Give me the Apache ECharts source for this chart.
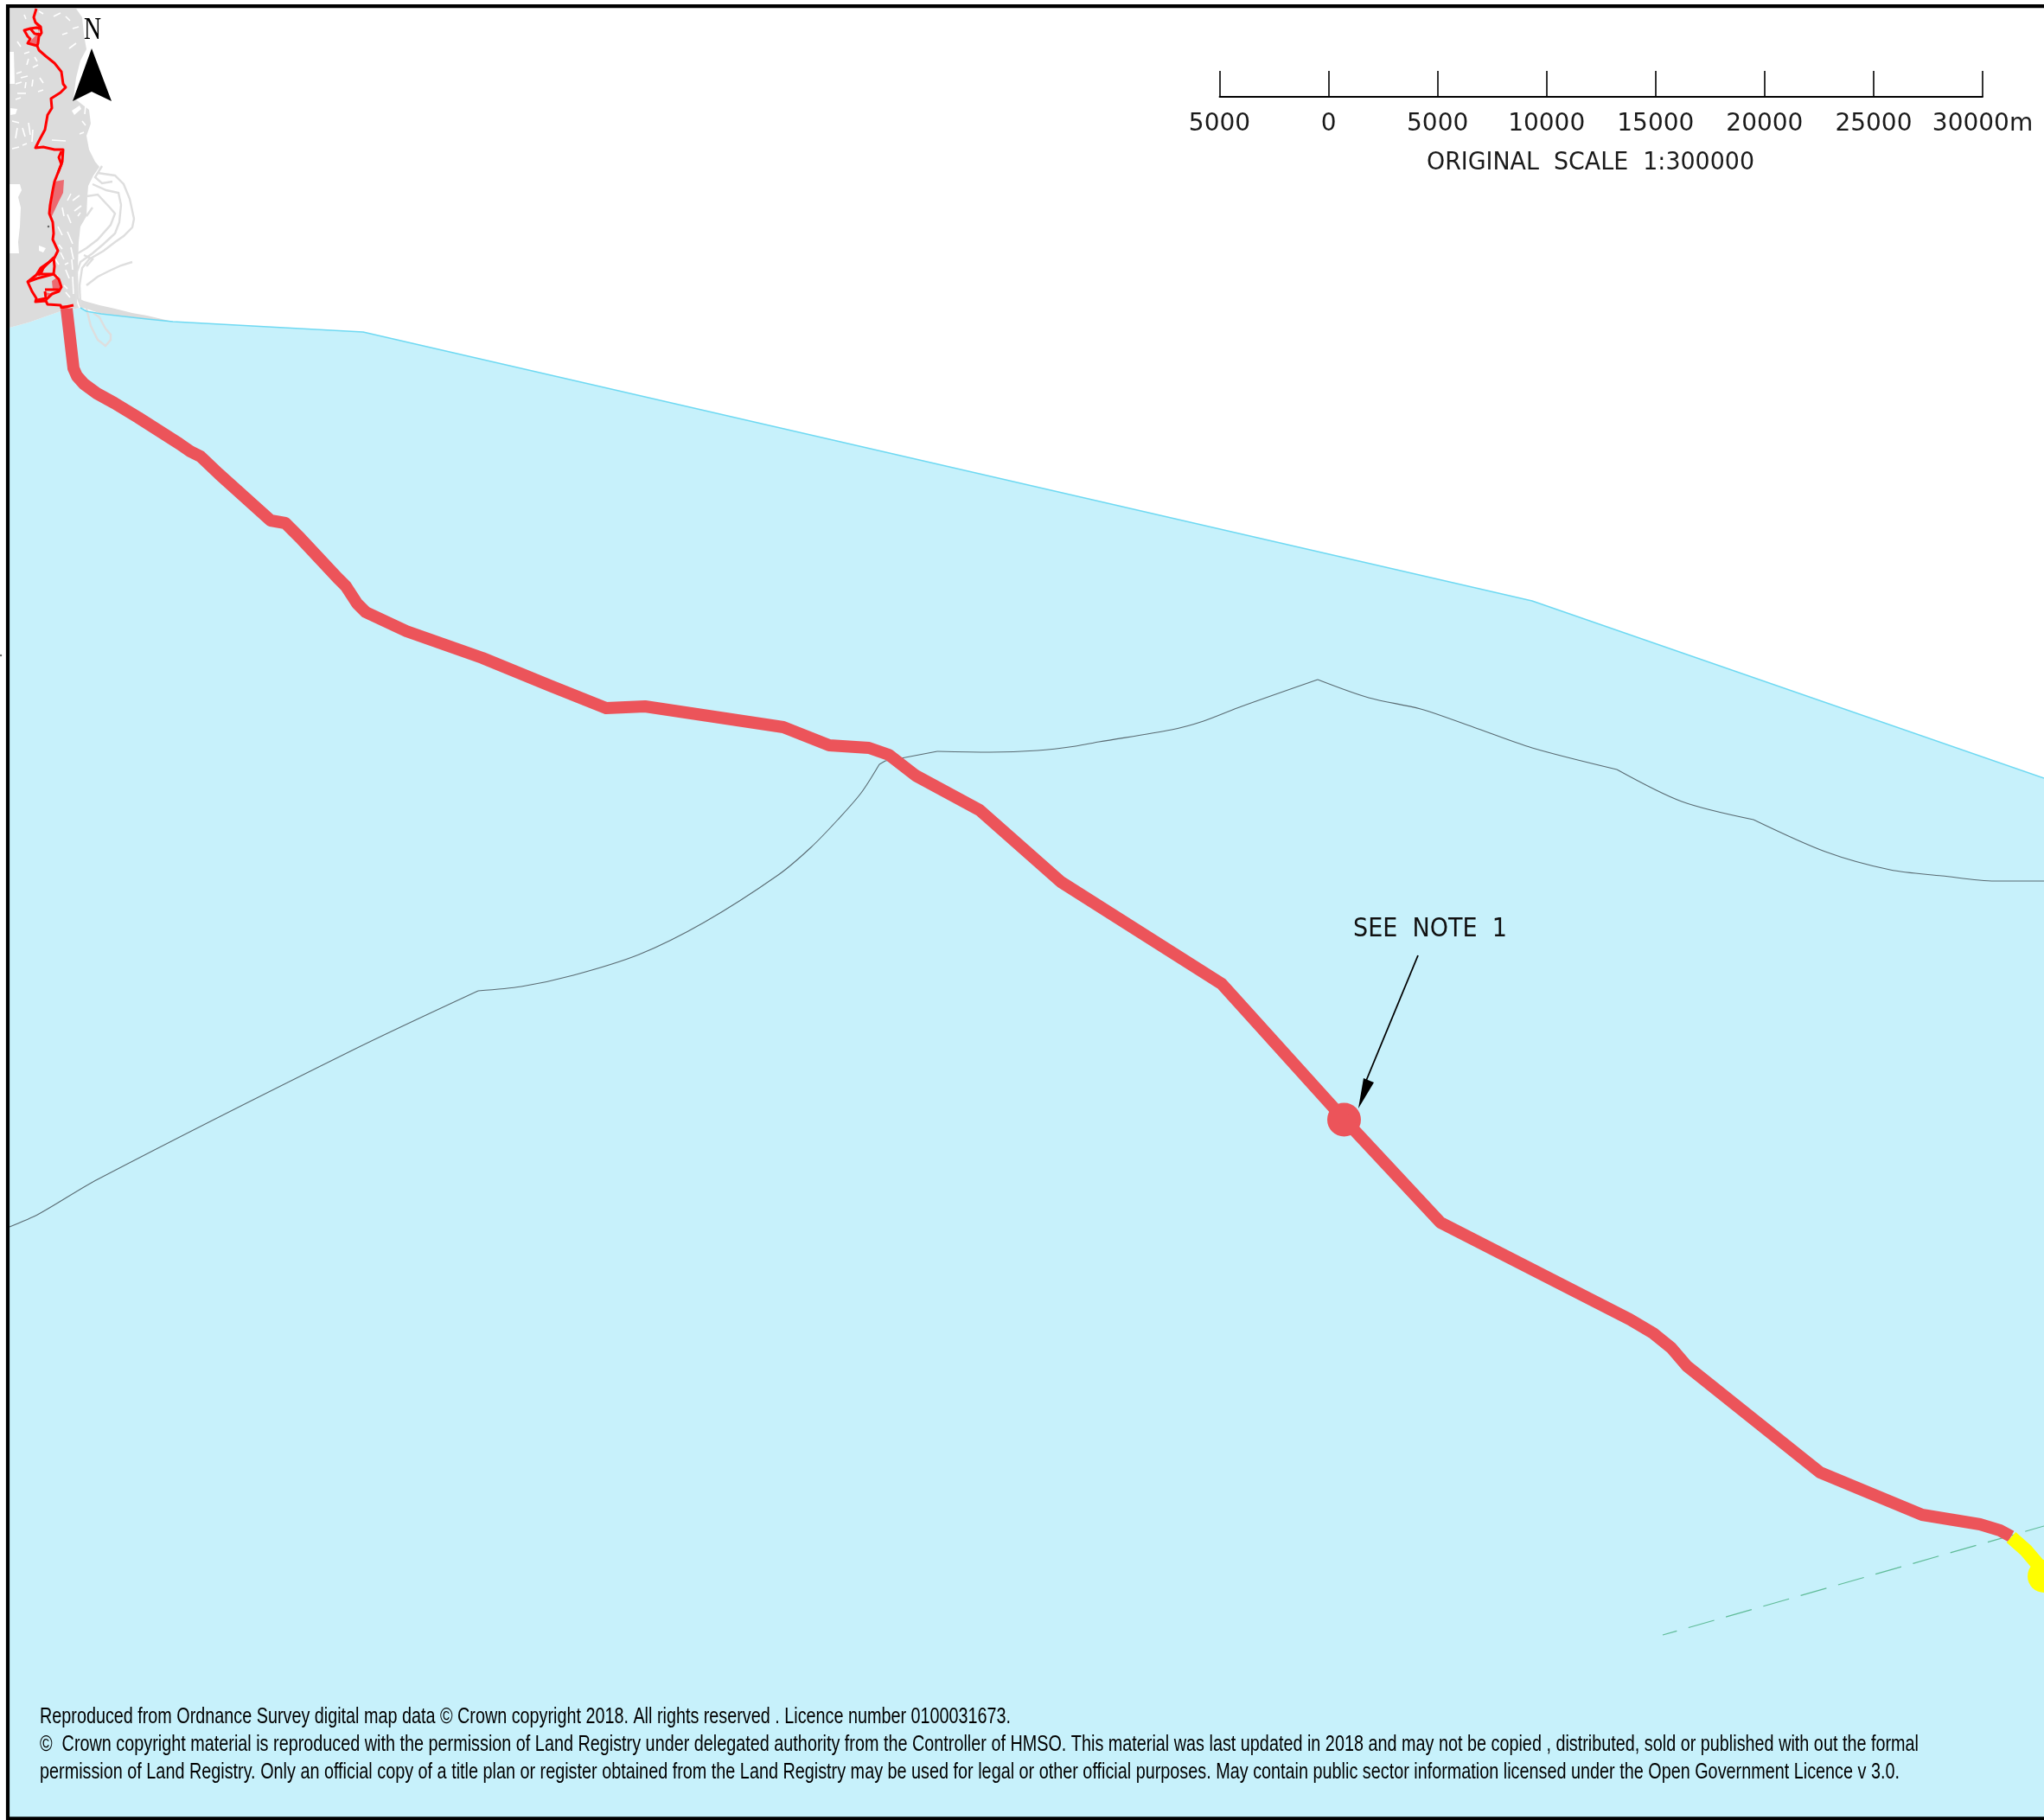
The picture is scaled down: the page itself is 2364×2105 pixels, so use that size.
<!DOCTYPE html>
<html><head><meta charset="utf-8">
<style>html,body{margin:0;padding:0;background:#fff}#c{width:2364px;height:2105px}</style>
<script src="https://cdn.jsdelivr.net/npm/echarts@6/dist/echarts.min.js"></script>
</head><body><div id="c"></div>
<script>
// ---- map data, in drawing units ----
const seaArea = [[11,379],[33,373],[50,367],[70,360],[93,356],[100,360],[117,363],[170,369],[200,372],[420,384],[1772,695],[2364,900],[2364,2103],[11,2103]];
const seaBoundary = [[93,356],[100,360],[117,363],[170,369],[200,372],[420,384],[1772,695],[2364,900]];
const landAreas = [
 [[11,10],[88,10],[95,20],[97,40],[100,57],[93,70],[88,90],[85,113],[103,127],[105,143],[100,157],[103,173],[110,187],[115,193],[108,203],[102,215],[101,228],[100,250],[93,262],[91,280],[90,310],[91,345],[97,348],[115,353],[133,357],[153,362],[170,365],[200,372],[170,369],[117,363],[100,357],[93,356],[70,360],[50,367],[33,373],[11,379]]
];
const landGaps = [
 [[11,213],[23,213],[25,220],[21,228],[24,240],[23,262],[21,280],[22,293],[11,293]],
 [[11,60],[16,60],[17,97],[11,97]],
 [[12,125],[20,126],[18,132],[12,133]],
 [[45,284],[53,287],[50,292],[45,290]],
 [[83,128],[92,122],[94,126],[86,133]]
];
const landFlecks = [
 [[28,17],[30,22]],[[45,13],[50,16]],[[62,19],[70,15]],[[76,19],[81,24]],[[84,33],[91,31]],[[72,40],[78,38]],
 [[20,48],[24,54]],[[28,62],[34,60]],[[33,68],[31,75]],[[19,85],[25,83]],[[24,90],[32,88]],[[38,78],[44,75]],
 [[40,66],[43,71]],[[18,97],[25,95]],[[30,95],[29,102]],[[38,92],[37,100]],[[20,108],[30,108]],[[18,115],[24,113]],
 [[46,90],[50,96]],[[44,106],[50,104]],[[80,56],[88,50]],[[99,122],[98,132]],[[95,140],[99,145]],[[92,155],[97,153]],
 [[60,162],[76,163]],[[14,140],[22,142]],[[20,148],[18,160]],[[26,148],[29,158]],[[33,142],[35,156]],[[26,168],[31,166]],
 [[14,172],[22,170]],[[38,150],[37,164]],
 [[67,262],[72,272]],[[78,248],[82,258]],[[84,232],[92,226]],[[86,244],[94,238]],[[70,292],[74,300]],[[66,318],[70,330]],
 [[82,286],[85,300]],[[76,312],[80,322]],[[76,338],[81,344]],[[88,345],[92,356]],[[78,268],[84,282]],[[72,240],[74,250]],
 [[83,300],[84,312]],[[84,320],[85,340]],[[74,330],[78,334]],[[90,250],[93,246]],[[68,283],[72,288]],[[78,232],[82,224]],
 [[64,300],[68,306]],[[75,306],[79,304]]
];
const landRoads = [
 [[113,200],[133,203],[143,213],[150,230],[155,253],[153,263],[143,273],[133,280],[120,290],[103,300],[95,310],[92,330],[93,353]],
 [[107,213],[123,220],[137,223],[140,237],[138,257],[133,270],[120,282],[107,293],[93,303],[88,317],[88,353]],
 [[100,227],[113,225],[127,240],[133,247],[128,260],[113,277],[100,287],[90,293]],
 [[153,303],[140,307],[127,313],[113,320],[100,330]],
 [[118,192],[110,205],[118,212],[130,210]],
 [[107,240],[100,250]],
 [[97,295],[107,300],[100,308]],
 [[100,357],[105,377],[113,393],[122,400],[128,393],[128,387],[122,380],[115,367],[108,362]]
];
const depthLineWestA = [[11,1419],[45,1404],[113,1364],[407,1215],[553,1146]];
const depthLineWestB = [[553,1146],[603,1141],[663,1128],[739,1104],[814,1067],[900,1012],[938,980],[969,948],[996,917],[1017,884]];
const depthLineWestC = [[1017,884],[1024,880],[1042,877],[1084,869]];
const depthLineWestD = [[1084,869],[1145,870],[1200,868],[1244,863],[1271,858],[1355,844],[1392,834],[1436,817],[1524,786]];
const depthLineEastA = [[1524,786],[1583,807],[1643,820],[1704,841],[1772,865],[1870,890]];
const depthLineEastB = [[1870,890],[1945,927],[2028,948]];
const depthLineEastC = [[2028,948],[2111,985],[2186,1006],[2246,1013],[2307,1019],[2364,1019]];
const limitLine = [[1923,1891],[2364,1765]];
const cableRoute = [[77,357],[85,426],[89,435],[97,444],[112,455],[132,466],[160,483],[207,513],[220,522],[232,528],[253,548],[313,602],[330,605],[347,622],[390,668],[400,678],[413,698],[423,708],[470,730],[558,761],[636,793],[701,819],[746,817],[906,841],[959,862],[1005,865],[1028,873],[1059,897],[1133,937],[1227,1020],[1413,1138],[1554,1294],[1666,1414],[1885,1526],[1912,1542],[1933,1559],[1951,1580],[2105,1703],[2223,1752],[2290,1763],[2313,1770],[2326,1777]];
const cableEnd = [[2326,1778],[2343,1793],[2360,1813],[2364,1823]];
const noteJoint = [[1554.5,1295]];
const endJoint = [[2364,1823]];
const onshoreRoute = [
 [[42,10],[39,20],[41,26],[47,31],[48,38],[45,42],[44,50],[43,53],[45,58],[53,65],[63,73],[71,83],[73,97],[76,101],[70,107],[59,114],[60,125],[55,133],[52,150],[45,163],[41,171],[50,170],[63,173],[73,173],[72,187],[67,200],[63,210],[61,220],[58,237],[57,247],[61,257],[62,270],[61,277],[67,290],[63,298],[57,303],[47,310],[42,318],[32,326],[37,337],[42,345],[41,349],[53,348],[55,352],[70,353],[71,356],[85,353]],
 [[48,33],[42,32],[35,33],[28,35],[32,42],[35,45],[32,50],[43,53]],
 [[35,33],[40,39],[48,40]],
 [[42,317],[62,317],[68,323],[71,332],[68,337],[60,340],[53,347]],
 [[32,326],[43,322],[62,317]],
 [[52,335],[67,335],[68,338]],
 [[50,310],[62,298],[63,308],[62,317]],
 [[52,337],[53,345],[43,347]],
 [[71,175],[68,182],[71,190],[67,200]],
 [[42,318],[50,310],[48,315],[44,318]]
];
const onshoreAreas = [
 [[63,210],[74,208],[73,223],[68,233],[60,250],[57,247],[58,233],[62,217]],
 [[40,24],[47,32],[44,38],[33,50],[43,53],[45,37]],
 [[60,325],[67,320],[71,330],[67,337],[61,335]],
 [[52,338],[63,340],[57,345]],
 [[42,318],[50,310],[48,315]],
 [[70,353],[85,353],[73,360],[71,356]]
];
const northArrow = [[106,56],[129,117],[106,106],[84,117]];
const noteLeader = [[1640,1105],[1580,1250]];
const noteArrowHead = [[1577,1247],[1589,1252],[1571,1282]];
const specks = [[1,758],[56,262]];
// ---- scale bar ----
const scaleMin = -5000, scaleMax = 30000, scaleStep = 5000;
const scaleTickLabels = ['5000','0','5000','10000','15000','20000','25000','30000m'];
const scaleTitle = 'ORIGINAL\u00a0\u00a0SCALE\u00a0\u00a01:300000';
const noteText = 'SEE\u00a0\u00a0NOTE\u00a0\u00a01';
const northText = 'N';
const footerLines = [
 'Reproduced from Ordnance Survey digital map data © Crown copyright 2018. All rights reserved . Licence number 0100031673.',
 '©  Crown copyright material is reproduced with the permission of Land Registry under delegated authority from the Controller of HMSO. This material was last updated in 2018 and may not be copied , distributed, sold or published with out the formal',
 'permission of Land Registry. Only an official copy of a title plan or register obtained from the Land Registry may be used for legal or other official purposes. May contain public sector information licensed under the Open Government Licence v 3.0.'
];

const mctx = document.createElement('canvas').getContext('2d');
function fitted(text, font, left, centreY, width, fill){
  mctx.font = font;
  const w = mctx.measureText(text).width;
  return {type:'text', x:left, y:centreY, scaleX:width/w, silent:true, z:50,
    style:{text, font, fill, align:'left', verticalAlign:'middle'}};
}
function shapes(list, kind, style){
  return {type:'custom', coordinateSystem:'cartesian2d', xAxisIndex:0, yAxisIndex:0, silent:true, animation:false,
    data:list.map((_,i)=>[i,0]),
    renderItem(params, api){
      const pts = list[params.dataIndex].map(p=>api.coord(p));
      return {type:kind, shape:{points:pts}, style:Object.assign({},style)};
    }};
}
function line(data, width, color, extra, smooth){
  return {type:'line', xAxisIndex:0, yAxisIndex:0, data, showSymbol:false, silent:true, animation:false, smooth:smooth||false,
    lineStyle:Object.assign({width, color, cap:'butt', join:'round', opacity:1}, extra||{})};
}
function dots(data, size, color){
  return {type:'scatter', xAxisIndex:0, yAxisIndex:0, data, symbol:'circle', symbolSize:size, silent:true, animation:false, clip:true,
    itemStyle:{color, opacity:1}};
}
const frame = [[2364,7.2],[9,7.2],[9,2103.4],[2364,2103.4]];
const RED='#EC545A', DEPTH='#5A6B72';
const chart = echarts.init(document.getElementById('c'), null, {renderer:'canvas'});
chart.setOption({
  animation:false, backgroundColor:'#ffffff',
  grid:[{left:0,right:0,top:0,bottom:0},{left:1410.5,width:882.5,top:82,height:30}],
  xAxis:[
    {type:'value',min:0,max:2364,show:false,gridIndex:0},
    {type:'value',min:scaleMin,max:scaleMax,interval:scaleStep,gridIndex:1,splitLine:{show:false},
     axisLine:{show:true,onZero:false,lineStyle:{color:'#000',width:1.8}},
     axisTick:{show:true,inside:true,length:30,lineStyle:{color:'#000',width:1.6}},
     axisLabel:{show:true,margin:18,fontFamily:'DejaVu Sans',fontSize:28,color:'#1a1a1a',
       hideOverlap:false,showMinLabel:true,showMaxLabel:true,formatter:(v,i)=>scaleTickLabels[i]}}
  ],
  yAxis:[
    {type:'value',min:0,max:2105,inverse:true,show:false,gridIndex:0},
    {type:'value',min:0,max:1,show:false,gridIndex:1}
  ],
  series:[
    shapes([seaArea],'polygon',{fill:'#C7F1FB'}),
    line(seaBoundary,1.6,'#6FD9F2'),
    shapes(landAreas,'polygon',{fill:'#DCDCDC'}),
    shapes(landGaps,'polygon',{fill:'#FFFFFF'}),
    shapes(landFlecks,'polyline',{stroke:'#FFFFFF',lineWidth:1.6,fill:null}),
    shapes(landRoads,'polyline',{stroke:'#DEDEDE',lineWidth:2.4,fill:null}),
    line(depthLineWestA,1.1,DEPTH,null,0.3),
    line(depthLineWestB,1.1,DEPTH,null,0.3),
    line(depthLineWestC,1.1,DEPTH),
    line(depthLineWestD,1.1,DEPTH,null,0.3),
    line(depthLineEastA,1.1,DEPTH,null,0.3),
    line(depthLineEastB,1.1,DEPTH,null,0.3),
    line(depthLineEastC,1.1,DEPTH,null,0.3),
    line(limitLine,1.2,'#5FBB97',{type:[31,14],dashOffset:14}),
    line(cableRoute,14,RED),
    line(cableEnd,16,'#FFFF00'),
    dots(noteJoint,39,RED),
    dots(endJoint,38,'#FFFF00'),
    shapes(onshoreAreas,'polygon',{fill:'#EC6A70'}),
    shapes(onshoreRoute,'polyline',{stroke:'#FF0000',lineWidth:3,fill:null,lineJoin:'round'}),
    shapes([northArrow],'polygon',{fill:'#000'}),
    shapes([noteLeader],'polyline',{stroke:'#000',lineWidth:1.8,fill:null}),
    shapes([noteArrowHead],'polygon',{fill:'#000'}),
    dots(specks,2.5,'#666'),
    line(frame,4.2,'#000',{join:'miter'})
  ],
  graphic:{elements:[
    fitted(northText,'35px "Liberation Serif"',97,35.5,20,'#000'),
    fitted(noteText,'30px "DejaVu Sans"',1565,1075.5,178,'#111'),
    fitted(scaleTitle,'28px "DejaVu Sans"',1650,189,379,'#1a1a1a'),
    fitted(footerLines[0],'25px "Liberation Sans"',46,1986.5,1123,'#000'),
    fitted(footerLines[1],'25px "Liberation Sans"',46,2018,2173,'#000'),
    fitted(footerLines[2],'25px "Liberation Sans"',46,2050,2151,'#000')
  ]}
});
</script></body></html>
